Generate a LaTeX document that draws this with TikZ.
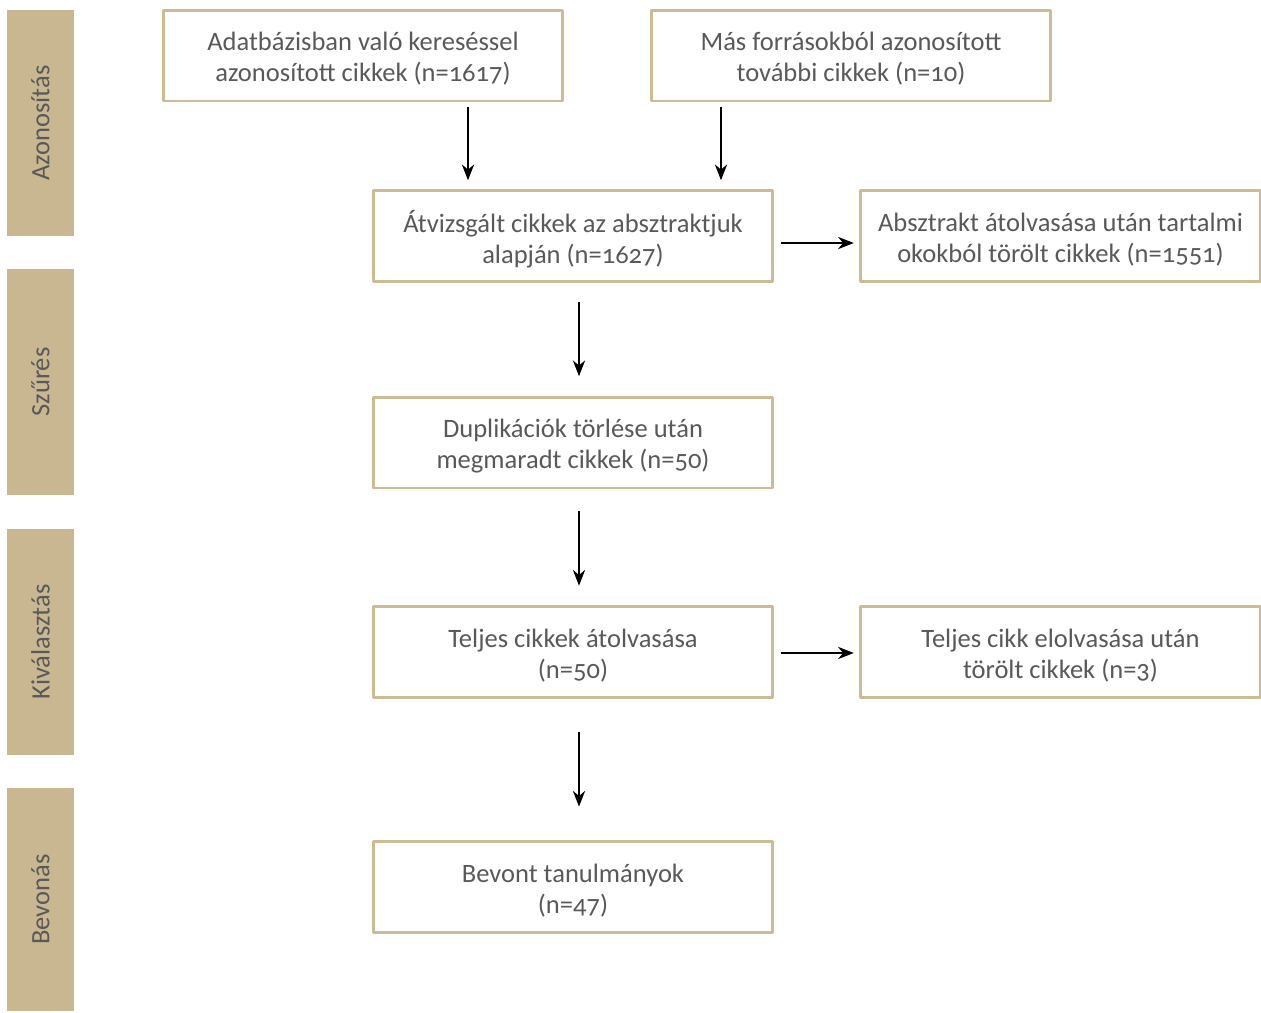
\documentclass[tikz,border=0pt]{standalone}
\usepackage{fontspec}
\setmainfont{Carlito}[Numbers=OldStyle]
\usetikzlibrary{positioning,arrows.meta}
\definecolor{tan}{HTML}{C9B791}
\definecolor{edge}{HTML}{CDBB96}
\definecolor{txt}{HTML}{595959}
\newcommand{\boxtext}[1]{\raisebox{-2pt}[\height][\depth]{\parbox{8cm}{\centering #1}}}
\begin{document}
\begin{tikzpicture}[x=0.02cm,y=-0.02cm,>={Stealth[length=9pt,width=7pt]},line join=round,
	font=\fontsize{15.1}{17.6}\selectfont,
	box/.style={draw=edge,line width=1.7pt,fill=white,text=txt,align=center,minimum width=8cm,minimum height=1.82cm,inner sep=0pt},
	side/.style={fill=tan,text=txt,minimum width=1.34cm,inner sep=0pt,rotate=90},
	arr/.style={->,line width=0.7pt}]
		\useasboundingbox (0,0) rectangle (1261,1012);
		% phase bars on the left
		\foreach \y/\h/\t/\n in {123/226/Azonosítás/s1,382/226/Szűrés/s2,642/226/Kiválasztás/s3,899.5/223/Bevonás/s4}
		\node[side,minimum width=\h*0.02cm,minimum height=1.34cm] (\n) at (40.5,\y) {\t};
		% boxes
		\node[box] (db) at (363,55.5) {\boxtext{Adatbázisban való kereséssel\\azonosított cikkek (n=1617)}};
		\node[box] (mas) at (851,55.5) {\boxtext{Más forrásokból azonosított\\további cikkek (n=10)}};
		\node[box] (atv) at (573,236) {\boxtext{Átvizsgált cikkek az absztraktjuk\\alapján (n=1627)}};
		\node[box] (torolt) at (1060.5,236) {\boxtext{Absztrakt átolvasása után tartalmi\\okokból törölt cikkek (n=1551)}};
		\node[box] (dup) at (573,442.5) {\boxtext{Duplikációk törlése után\\megmaradt cikkek (n=50)}};
		\node[box] (telj) at (573,652) {\boxtext{Teljes cikkek átolvasása\\(n=50)}};
		\node[box] (elol) at (1060.5,652) {\boxtext{Teljes cikk elolvasása után\\törölt cikkek (n=3)}};
		\node[box] (bev) at (573,887) {\boxtext{Bevont tanulmányok\\(n=47)}};
		% arrows
		\coordinate (a1) at (468,107);
		\coordinate (a2) at (721,107);
		\draw[arr,shorten >=5pt] (a1) -- (a1 |- atv.north);
		\draw[arr,shorten >=5pt] (a2) -- (a2 |- atv.north);
		\draw[arr,shorten <=3.5pt,shorten >=3pt] ([yshift=-0.14cm]atv.east) -- ([yshift=-0.14cm]torolt.west);
		\draw[arr,shorten <=3.5pt,shorten >=3pt] ([yshift=-0.02cm]telj.east) -- ([yshift=-0.02cm]elol.west);
		\draw[arr,shorten <=11pt,shorten >=11pt] ([xshift=0.12cm]atv.south) -- ([xshift=0.12cm]dup.north);
		\draw[arr,shorten <=12pt,shorten >=11pt] ([xshift=0.12cm]dup.south) -- ([xshift=0.12cm]telj.north);
		\draw[arr,shorten <=19pt,shorten >=19pt] ([xshift=0.12cm]telj.south) -- ([xshift=0.12cm]bev.north);
\end{tikzpicture}
\end{document}
